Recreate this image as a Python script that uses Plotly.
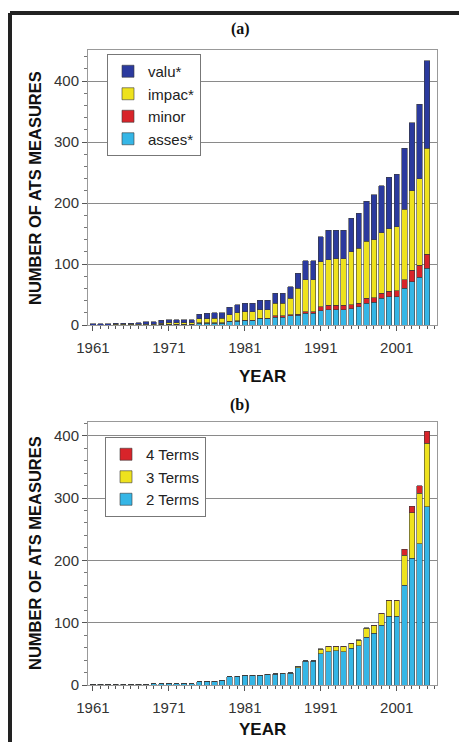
import plotly.graph_objects as go

years = list(range(1961, 2006))

# Panel (a): ATS measures by term
asses = [0,0,0,0,0,0,0,0,0, 1,1,1,1,1, 3,3,3,3, 5,6,7,7,10,10,13,13,15,16,19,19,
         23,25,25,25,27,30,36,37,44,46,46,60,71,78,93]
minor = [0,0,0,0,0,0,0,0,0, 0,0,0,0,0, 1,1,1,1,1,1,1,1,1,1, 2,2,2,2,3,3,
         7,7,7,7,6,6,8,8,8,9,10,14,19,20,23]
impac = [0,0,0,1,1,1,1,1,1, 2,3,3,3,3, 6,6,7,7, 11,13,14,14,14,14,21,21,27,42,52,52,
         74,75,77,77,87,90,93,95,99,103,105,116,130,142,174]
valu = [2,2,2,2,2,2,3,4,4, 5,5,5,5,5, 8,9,9,9, 12,13,14,14,16,16,16,16,19,25,31,31,
        41,48,46,46,55,57,66,74,77,84,86,100,112,122,143]

# Panel (b): number of terms
two_terms = [1,1,1,1,1,1,1,1,2, 2,2,2,2,2, 5,6,6,7, 13,14,15,16,16,17,17,18,19,28,38,38,
             50,53,55,53,59,63,77,83,96,110,110,160,203,227,286]
three_terms = [0,0,0,0,0,0,0,0,0, 0,0,0,0,0, 0,0,0,0, 0,0,0,0,0,0,1,1,1,1,1,1,
               7,8,6,8,7,9,14,12,18,25,25,48,73,81,102]
four_terms = [0,0,0,0,0,0,0,0,0, 0,0,0,0,0, 0,0,0,0, 0,0,0,0,0,0,0,0,0,0,0,0,
              1,1,1,1,1,1,1,1,1,1,1,10,11,12,19]

tick_years = [1961, 1971, 1981, 1991, 2001]
y_ticks = [0, 100, 200, 300, 400]

C_VALU = "#2B3A9E"
C_IMPAC = "#EEE21E"
C_MINOR = "#D8242A"
C_ASSES = "#35B6E6"

W, H = 467, 742
OFF = 8  # page body margin offset
def px_x(p): return (p - OFF) / W
def px_y(p): return 1 - (p - OFF) / H

fig = go.Figure()
line = dict(color="#3a3a3a", width=0.6)
for name, vals, col in [("asses*", asses, C_ASSES), ("minor", minor, C_MINOR),
                        ("impac*", impac, C_IMPAC), ("valu*", valu, C_VALU)]:
    fig.add_trace(go.Bar(x=years, y=vals, name=name, marker=dict(color=col, line=line),
                         width=0.7, xaxis="x", yaxis="y", legend="legend",
                         legendgroup=name))
for name, vals, col in [("2 Terms", two_terms, C_ASSES), ("3 Terms", three_terms, C_IMPAC),
                        ("4 Terms", four_terms, C_MINOR)]:
    fig.add_trace(go.Bar(x=years, y=vals, name=name, marker=dict(color=col, line=line),
                         width=0.7, xaxis="x2", yaxis="y2", legend="legend2",
                         legendgroup=name))

font_ticks = dict(family="Liberation Sans, Arial", size=15, color="#333")
xr = [1960.35, 2006.3]
xdom = [px_x(88), px_x(437)]

def xaxis(anchor):
    return dict(domain=xdom, range=xr, anchor=anchor, tickvals=tick_years,
                ticks="outside", ticklen=5, tickcolor="#555", tickfont=font_ticks,
                showline=True, linecolor="#999", mirror=True, showgrid=False,
                ticklabelstandoff=4, automargin=False,
                minor=dict(dtick=1, tick0=1961, ticks="outside", ticklen=3, tickcolor="#555"))

def yaxis(anchor, dom, rng):
    return dict(domain=dom, range=rng, anchor=anchor, tickvals=y_ticks,
                ticks="outside", ticklen=5, tickcolor="#555", tickfont=font_ticks,
                showline=True, linecolor="#999", mirror=True, automargin=False,
                showgrid=True, gridcolor="#8a8a8a", gridwidth=1, zeroline=False,
                minor=dict(dtick=20, ticks="outside", ticklen=3, tickcolor="#777", showgrid=False))

leg_font = dict(family="Liberation Sans, Arial", size=15, color="#222")
fig.update_layout(
    width=W, height=H, margin=dict(l=0, r=0, t=0, b=0, autoexpand=False),
    paper_bgcolor="white", plot_bgcolor="white",
    barmode="stack", showlegend=True,
    xaxis=xaxis("y"), yaxis=yaxis("x", [px_y(325), px_y(50)], [0, 451]),
    xaxis2=xaxis("y2"), yaxis2=yaxis("x2", [px_y(685), px_y(422)], [0, 422]),
    legend=dict(x=px_x(107), y=px_y(54), xanchor="left", yanchor="top",
                traceorder="reversed", bordercolor="#777", borderwidth=1,
                bgcolor="white", tracegroupgap=5, itemwidth=30, font=leg_font),
    legend2=dict(x=px_x(105), y=px_y(437), xanchor="left", yanchor="top",
                 traceorder="reversed", bordercolor="#777", borderwidth=1,
                 bgcolor="white", tracegroupgap=3, itemwidth=30, font=leg_font),
)

ann_font_bold = dict(family="Liberation Sans, Arial", size=17, color="#111")
serif = dict(family="Liberation Serif, Times New Roman", size=16, color="#111")
fig.add_annotation(text="<b>(a)</b>", x=px_x(240), y=px_y(29), xref="paper", yref="paper",
                   xanchor="center", yanchor="middle", showarrow=False, font=serif)
fig.add_annotation(text="<b>(b)</b>", x=px_x(240), y=px_y(405), xref="paper", yref="paper",
                   xanchor="center", yanchor="middle", showarrow=False, font=serif)
for yc in (188, 553):
    fig.add_annotation(text="<b>NUMBER OF ATS MEASURES</b>", x=px_x(35), y=px_y(yc),
                       xref="paper", yref="paper", showarrow=False, textangle=-90,
                       xanchor="center", yanchor="middle",
                       font=dict(family="Liberation Sans, Arial", size=16.5, color="#111"))
for yc in (376, 729):
    fig.add_annotation(text="<b>YEAR</b>", x=px_x(262), y=px_y(yc), xref="paper", yref="paper",
                       xanchor="center", yanchor="middle", showarrow=False, font=ann_font_bold)

# outer frame (left and top edges visible)
fig.add_shape(type="line", xref="paper", yref="paper", x0=px_x(10), x1=1.0, y0=px_y(13), y1=px_y(13),
              line=dict(color="#222", width=4))
fig.add_shape(type="line", xref="paper", yref="paper", x0=px_x(10), x1=px_x(10), y0=px_y(13), y1=0,
              line=dict(color="#222", width=4))

fig.write_html("out.html")
